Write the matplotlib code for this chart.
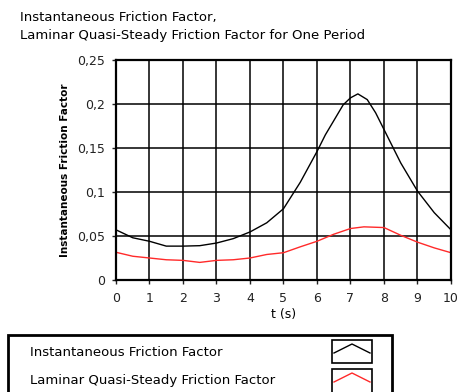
import matplotlib
matplotlib.use("Agg")
import matplotlib.pyplot as plt
from matplotlib.lines import Line2D
from matplotlib.patches import Rectangle

# Data
t_inst = [0, 0.5, 1, 1.5, 2, 2.5, 3, 3.5, 4, 4.5, 5, 5.5, 6, 6.25, 6.5, 6.78, 7, 7.22, 7.5,
          7.75, 8, 8.25, 8.5, 9, 9.5, 10]
inst = [0.057, 0.048, 0.044, 0.0385, 0.0385, 0.039, 0.042, 0.047, 0.0546, 0.065, 0.081,
        0.111, 0.146, 0.165, 0.181, 0.199, 0.207, 0.2115, 0.205, 0.190, 0.171, 0.152, 0.133,
        0.101, 0.0765, 0.057]
t_lam = [0, 0.5, 1, 1.5, 2, 2.5, 3, 3.5, 4, 4.5, 5, 5.5, 6, 6.5, 7, 7.4, 8, 8.5, 9, 9.5, 10]
lam = [0.0315, 0.027, 0.025, 0.023, 0.0223, 0.020, 0.0223, 0.023, 0.025, 0.029, 0.031,
       0.0377, 0.044, 0.052, 0.0585, 0.0604, 0.0596, 0.0508, 0.043, 0.0365, 0.031]

xticks = list(range(0, 11))
yticks = [0, 0.05, 0.1, 0.15, 0.2, 0.25]
ytick_labels = ["0", "0,05", "0,1", "0,15", "0,2", "0,25"]

W, H = 458, 392
plt.rcParams['font.family'] = ['DejaVu Sans']
fig = plt.figure(figsize=(W / 100, H / 100), dpi=100)

def fx(px):
    return px / W

def fy(py):
    return 1 - py / H

RED = "#ff2a2a"

ax = fig.add_axes([fx(116), fy(280), fx(451) - fx(116), fy(60) - fy(280)])
ax.plot(t_inst, inst, color="black", lw=1.0)
ax.plot(t_lam, lam, color=RED, lw=1.0)
ax.set_xlim(0, 10)
ax.set_ylim(0, 0.25)
ax.set_xticks(xticks)
ax.set_xticklabels([str(v) for v in xticks], fontsize=9)
ax.set_yticks(yticks)
ax.set_yticklabels(ytick_labels, fontsize=9)
ax.grid(True, color="black", lw=1.1)
for s in ax.spines.values():
    s.set_linewidth(1.6)
ax.tick_params(axis="x", direction="out", length=3, width=1, pad=6, colors="#222222")
ax.tick_params(axis="y", direction="out", length=3, width=1, pad=5, colors="#222222")
ax.set_xlabel("t (s)", fontsize=9, labelpad=2)
ax.set_ylabel("Instantaneous Friction Factor", fontsize=7.5, fontweight="bold", labelpad=5)

fig.text(fx(20), fy(21), "Instantaneous Friction Factor,", fontsize=9.5, va="baseline")
fig.text(fx(20), fy(39), "Laminar Quasi-Steady Friction Factor for One Period", fontsize=9.5,
         va="baseline")

# Legend box (extends below the figure)
fig.patches.append(Rectangle((fx(8), fy(400)), fx(392) - fx(8), fy(335) - fy(400),
                             transform=fig.transFigure, fill=False, lw=2, edgecolor="black"))
fig.text(fx(30), fy(356), "Instantaneous Friction Factor", fontsize=9.5, va="baseline")
fig.text(fx(30), fy(384), "Laminar Quasi-Steady Friction Factor", fontsize=9.5, va="baseline")

for (top, bot, col) in [(340, 363, "black"), (369, 400, RED)]:
    fig.patches.append(Rectangle((fx(332), fy(bot)), fx(372) - fx(332), fy(top) - fy(bot),
                                 transform=fig.transFigure, fill=False, lw=1.2, edgecolor="black"))
    ymid = top + 13
    fig.lines.append(Line2D([fx(334), fx(352), fx(370)], [fy(ymid), fy(ymid - 9), fy(ymid)],
                            transform=fig.transFigure, color=col, lw=1.0))

fig.savefig("out.png", dpi=100)
